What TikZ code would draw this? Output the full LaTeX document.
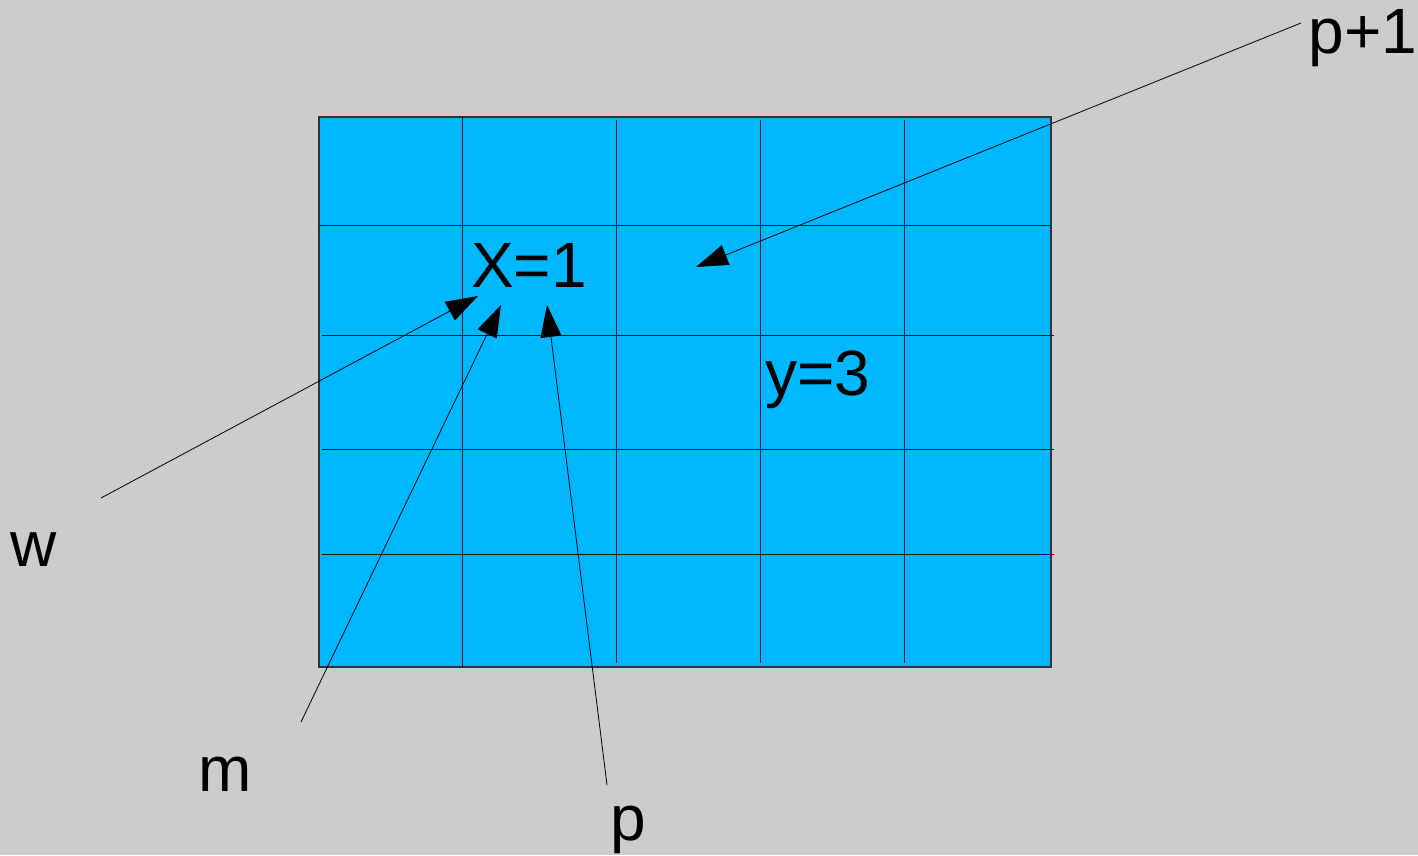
\documentclass[tikz,border=0pt]{standalone}
\usepackage{fontspec}
\setmainfont{Liberation Sans}
\usetikzlibrary{arrows.meta}
\definecolor{bg}{HTML}{CCCCCC}
\definecolor{cellblue}{HTML}{00B8FF}
\begin{document}
\begin{tikzpicture}[x=1pt,y=-1pt,
  lbl/.style={font=\fontsize{64}{76}\selectfont, inner sep=0pt, anchor=base},
  gridline/.style={line width=0.9pt, draw=black!90},
  ptr/.style={line width=0.8pt, draw=black, -{Triangle[length=32pt,width=21pt]}}]
\fill[bg] (0,0) rectangle (1418,855);
\useasboundingbox (0,0) rectangle (1418,855);
% grid
\filldraw[fill=cellblue, draw=black!80, line width=1.3pt] (319,117) rectangle (1051,667);
\draw[gridline] (462,117) -- (462,667);
\draw[gridline] (616,120) -- (616,663);
\draw[gridline] (760,120) -- (760,663);
\draw[gridline] (904,120) -- (904,663);
\draw[gridline] (319,225) -- (1051,225);
\draw[gridline] (322,335) -- (1054,335);
\draw[gridline] (322,449) -- (1054,449);
\draw[gridline] (322,554) -- (1054,554);
% labels
\node[lbl] (x1) at (529,287) {X=1};
\node[lbl] (y3) at (818,395) {y=3};
\node[lbl] (w) at (34,566) {w};
\node[lbl] (m) at (225,791) {m};
\node[lbl] (p) at (628,840) {p};
\node[lbl] (p1) at (1363,53) {p+1};
% connector ends
\coordinate (ws) at (101,498);
\coordinate (wt) at (478,296);
\coordinate (ms) at (301,722);
\coordinate (mt) at (501,305);
\coordinate (ps) at (607,785);
\coordinate (pt) at (547,305);
\coordinate (p1s) at (1301,23);
\coordinate (p1t) at (696,267);
\draw[ptr] (ws) -- (wt);
\draw[ptr] (ms) -- (mt);
\draw[ptr] (ps) -- (pt);
\draw[ptr] (p1s) -- (p1t);
\end{tikzpicture}
\end{document}
